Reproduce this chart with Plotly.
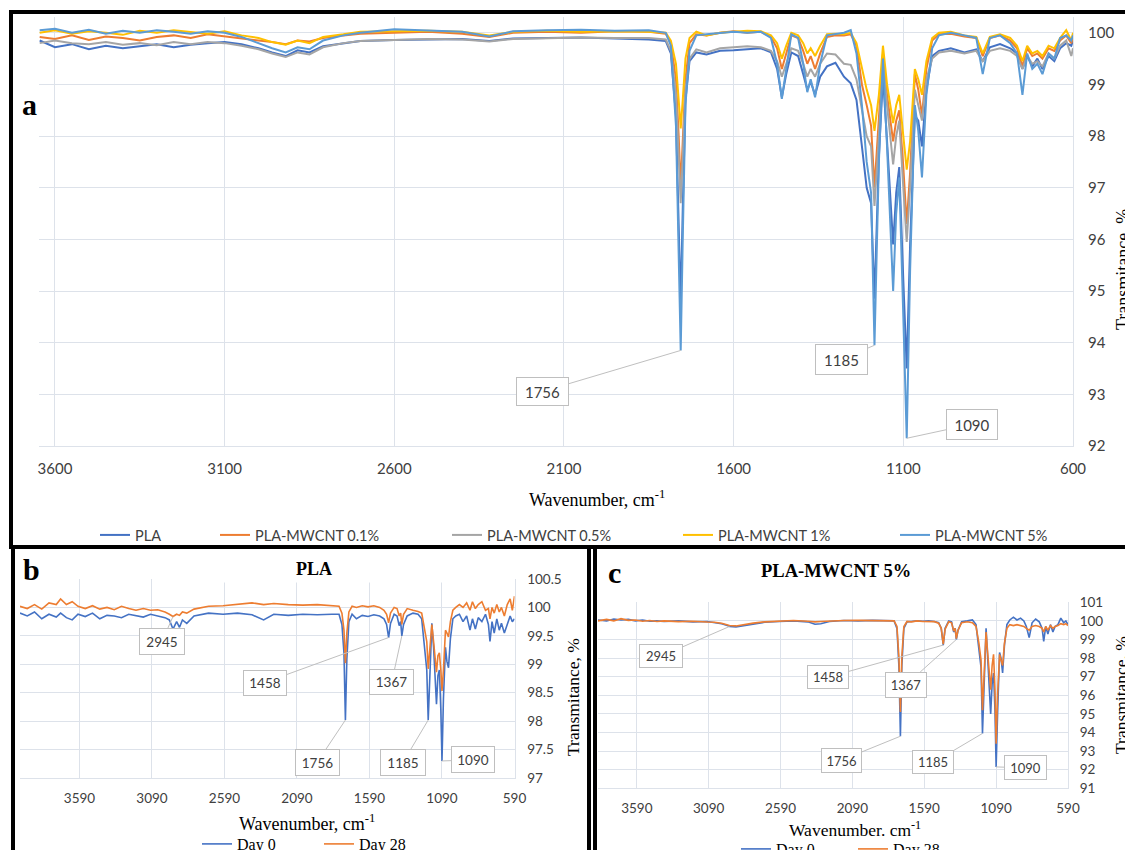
import plotly.graph_objects as go

W, H = 1133, 858
def px(x): return x / W
def py(y): return 1 - y / H

# ---------------- Panel a data ----------------
WN_A = [3645, 3600, 3550, 3500, 3450, 3400, 3350, 3300, 3250, 3200,
        3150, 3100, 3050, 3000, 2960, 2920, 2885, 2850, 2810, 2750,
        2700, 2600, 2500, 2400, 2320, 2250, 2150, 2050, 1950, 1850,
        1800, 1785, 1770, 1762, 1756, 1750, 1742, 1730, 1710, 1680,
        1640, 1600, 1560, 1520, 1490, 1472, 1458, 1445, 1430, 1410,
        1395, 1383, 1373, 1360, 1345, 1325, 1300, 1275, 1255, 1238,
        1222, 1208, 1195, 1185, 1172, 1160, 1148, 1138, 1130, 1121,
        1112, 1100, 1090, 1080, 1066, 1056, 1045, 1032, 1015, 995,
        960, 920, 885, 866, 845, 815, 785, 765, 749, 735,
        720, 705, 690, 672, 655, 638, 620, 605, 600]

PLA_A = [99.85, 99.72, 99.78, 99.68, 99.75, 99.70, 99.74, 99.78, 99.72, 99.77,
         99.80, 99.82, 99.78, 99.70, 99.62, 99.55, 99.66, 99.62, 99.74, 99.80,
         99.84, 99.86, 99.87, 99.88, 99.84, 99.89, 99.90, 99.91, 99.89, 99.87,
         99.84, 99.6, 98.4, 96.3, 94.7, 96.6, 98.7, 99.45, 99.62, 99.58,
         99.65, 99.66, 99.68, 99.70, 99.62, 99.3, 98.75, 99.2, 99.62, 99.55,
         99.2, 98.9, 99.05, 98.8, 99.15, 99.35, 99.42, 99.15, 99.02, 98.7,
         97.8, 97.0, 96.7, 94.85, 97.6, 99.15, 97.9, 96.9, 95.9, 96.9,
         97.4, 95.2, 93.5, 95.9, 98.4, 98.3, 97.8, 98.9, 99.55, 99.65,
         99.7, 99.62, 99.68, 99.45, 99.72, 99.78, 99.7, 99.6, 99.3, 99.55,
         99.35, 99.5, 99.3, 99.55, 99.45, 99.7, 99.8, 99.75, 99.85]

MWCNT01_A = [99.92, 99.88, 99.95, 99.86, 99.93, 99.9, 99.85, 99.92, 99.95, 99.9,
             99.97, 99.93, 99.9, 99.85, 99.82, 99.78, 99.85, 99.83, 99.9, 99.95,
             99.98, 100.0, 100.02, 99.98, 99.92, 100.0, 100.02, 100.0, 100.03, 100.02,
             99.98, 99.8, 99.1, 98.0, 97.0, 97.9, 99.1, 99.8, 99.97, 99.95,
             100.0, 100.03, 100.0, 100.02, 99.92, 99.7, 99.3, 99.6, 99.95, 99.9,
             99.65, 99.4, 99.55, 99.3, 99.6, 99.92, 99.95, 99.95, 99.97, 99.75,
             99.0, 98.6, 98.2, 97.0, 98.3, 99.6, 98.8, 98.3, 97.9, 98.3,
             98.5, 97.4, 96.3, 97.3, 99.2, 98.9, 98.4, 99.3, 99.85, 99.97,
             99.98, 99.93, 99.9, 99.55, 99.9, 99.95, 99.85, 99.7, 99.35, 99.7,
             99.55, 99.6, 99.5, 99.7, 99.65, 99.85, 99.95, 99.8, 99.9]

MWCNT05_A = [99.8, 99.85, 99.8, 99.78, 99.82, 99.77, 99.8, 99.76, 99.82, 99.78,
             99.82, 99.8, 99.75, 99.68, 99.6, 99.53, 99.62, 99.58, 99.72, 99.8,
             99.84, 99.86, 99.88, 99.87, 99.83, 99.88, 99.9, 99.91, 99.9, 99.9,
             99.87, 99.65, 98.8, 97.6, 96.7, 97.6, 98.9, 99.5, 99.68, 99.62,
             99.7, 99.72, 99.74, 99.72, 99.65, 99.45, 99.15, 99.4, 99.7, 99.65,
             99.4, 99.15, 99.3, 99.15, 99.4, 99.6, 99.58, 99.4, 99.38, 99.1,
             98.5, 98.0, 97.8, 96.65, 98.0, 99.45, 98.6, 98.0, 97.45, 98.0,
             98.3, 97.0, 95.95, 97.0, 98.9, 98.6, 98.3, 99.1, 99.5, 99.62,
             99.65, 99.6, 99.65, 99.45, 99.65, 99.7, 99.65, 99.55, 99.3, 99.55,
             99.4, 99.45, 99.35, 99.6, 99.5, 99.75, 99.85, 99.55, 99.7]

MWCNT1_A = [100.0, 100.05, 99.98, 100.03, 100.0, 99.96, 100.04, 100.0, 100.05, 100.02,
            99.98, 100.03, 99.95, 99.9, 99.82, 99.77, 99.85, 99.8, 99.92, 99.97,
            100.02, 100.03, 100.04, 100.02, 99.95, 100.02, 100.04, 100.02, 100.03, 100.02,
            100.0, 99.85, 99.4, 98.7, 98.15, 98.7, 99.5, 99.9, 100.02, 99.95,
            100.0, 100.02, 100.04, 100.03, 99.95, 99.8, 99.5, 99.75, 100.0, 99.95,
            99.8, 99.6, 99.7, 99.55, 99.75, 99.97, 99.98, 99.97, 100.0, 99.8,
            99.3, 98.9, 98.6, 98.1, 98.8, 99.75, 99.0, 98.6, 98.25, 98.6,
            98.8, 98.0, 97.35, 97.9, 99.3, 99.1, 98.8, 99.45, 99.9, 100.0,
            100.02, 99.95, 99.92, 99.6, 99.92, 99.97, 99.9, 99.75, 99.45, 99.75,
            99.6, 99.65, 99.55, 99.75, 99.7, 99.9, 100.05, 99.85, 100.0]

MWCNT5_A = [100.05, 100.08, 100.0, 100.06, 99.98, 100.04, 100.0, 100.05, 100.02, 99.98,
            100.03, 100.0, 99.92, 99.8, 99.7, 99.62, 99.72, 99.68, 99.85, 99.95,
            100.0, 100.07, 100.05, 100.02, 99.93, 100.03, 100.05, 100.06, 100.04, 100.05,
            100.0, 99.75, 98.2, 95.6, 93.85, 96.0, 98.6, 99.65, 99.95, 99.97,
            100.0, 100.02, 100.0, 100.02, 99.9, 99.4, 98.72, 99.35, 99.97, 99.9,
            99.4, 98.85, 99.1, 98.75, 99.4, 99.95, 99.97, 100.0, 100.05, 99.6,
            98.6, 97.5, 96.9, 93.95, 97.5, 99.5, 97.8, 96.4, 95.0, 96.5,
            97.2, 94.5, 92.15, 95.4, 98.6, 98.1, 97.2, 98.8, 99.7, 99.95,
            100.0, 99.95, 99.9, 99.2, 99.9, 99.95, 99.8, 99.6, 98.8, 99.6,
            99.3, 99.4, 99.2, 99.6, 99.5, 99.9, 99.95, 99.85, 99.95]

SERIES_A_NAMES = ["PLA", "PLA-MWCNT 0.1%", "PLA-MWCNT 0.5%", "PLA-MWCNT 1%", "PLA-MWCNT 5%"]

# ---------------- Panel b data (PLA) ----------------
WN_B = [4000, 3950, 3900, 3850, 3800, 3750, 3720, 3680, 3640, 3600,
        3550, 3500, 3450, 3400, 3350, 3300, 3250, 3200, 3150, 3100,
        3050, 3000, 2970, 2945, 2920, 2900, 2880, 2850, 2800, 2750,
        2700, 2600, 2500, 2400, 2320, 2250, 2150, 2050, 1950, 1850,
        1800, 1780, 1766, 1756, 1746, 1732, 1710, 1680, 1640, 1600,
        1560, 1520, 1490, 1472, 1458, 1445, 1420, 1400, 1385, 1375,
        1367, 1355, 1330, 1290, 1255, 1230, 1210, 1195, 1185, 1172,
        1160, 1148, 1138, 1128, 1118, 1108, 1098, 1090, 1080, 1066,
        1056, 1045, 1032, 1015, 995, 970, 945, 920, 897, 880,
        860, 840, 815, 790, 770, 759, 745, 730, 712, 695,
        680, 660, 640, 620, 605, 590]

PLA_DAY0_B = [99.9, 99.85, 99.92, 99.8, 99.88, 99.83, 99.9, 99.82, 99.78, 99.88,
              99.84, 99.9, 99.8, 99.86, 99.85, 99.82, 99.88, 99.85, 99.83, 99.88,
              99.85, 99.82, 99.78, 99.62, 99.75, 99.65, 99.78, 99.72, 99.85, 99.88,
              99.9, 99.88, 99.9, 99.87, 99.78, 99.88, 99.86, 99.88, 99.87, 99.88,
              99.88, 99.7, 99.2, 98.02, 99.1, 99.75, 99.88, 99.8, 99.86, 99.84,
              99.87, 99.85, 99.8, 99.7, 99.47, 99.72, 99.88, 99.85, 99.68, 99.75,
              99.5, 99.7, 99.85, 99.9, 99.88, 99.8, 99.3, 98.9, 98.02, 99.1,
              99.72, 99.3, 98.7, 98.3, 98.8, 98.9, 98.2, 97.3, 98.4, 99.3,
              99.05, 98.94, 99.45, 99.8, 99.85, 99.88, 99.75, 99.85, 99.6, 99.8,
              99.62, 99.82, 99.75, 99.88, 99.7, 99.4, 99.75, 99.55, 99.8, 99.6,
              99.72, 99.55, 99.7, 99.85, 99.75, 99.8]

PLA_DAY28_B = [100.02, 99.98, 100.05, 99.97, 100.08, 100.05, 100.15, 100.05, 100.1, 100.02,
               99.98, 100.03, 99.97, 100.0, 99.96, 100.02, 99.98, 99.95, 99.98, 99.95,
               99.96, 99.92, 99.88, 99.84, 99.88, 99.86, 99.92, 99.9, 99.97, 100.0,
               100.02, 100.03, 100.05, 100.08, 100.05, 100.07, 100.05, 100.04, 100.05, 100.03,
               100.02, 99.9, 99.6, 99.02, 99.55, 99.92, 100.02, 100.0, 100.03, 100.01,
               100.03, 100.0, 99.95, 99.88, 99.73, 99.9, 100.0, 99.98, 99.85, 99.9,
               99.7, 99.88, 99.98, 99.95, 99.93, 99.9, 99.6, 99.4, 98.92, 99.4,
               99.7, 99.4, 99.1, 98.86, 99.15, 99.2, 98.9, 98.53, 98.9, 99.6,
               99.55, 99.48, 99.75, 99.95, 100.0, 100.05, 100.0, 100.08, 99.95, 100.1,
               99.98, 100.05, 100.1, 99.95, 99.98, 99.8, 100.0, 99.9, 100.05, 99.92,
               100.0, 99.85, 100.05, 100.15, 99.95, 100.2]

# ---------------- Panel c data (PLA-MWCNT 5%) ----------------
WN_C = [3860, 3800, 3750, 3700, 3650, 3600, 3550, 3500, 3450, 3400,
        3300, 3200, 3100, 3050, 3000, 2960, 2945, 2900, 2870, 2830,
        2780, 2700, 2600, 2500, 2400, 2350, 2310, 2250, 2150, 2050,
        1950, 1850, 1800, 1780, 1766, 1756, 1746, 1732, 1710, 1680,
        1640, 1600, 1560, 1520, 1490, 1472, 1458, 1445, 1420, 1400,
        1385, 1375, 1367, 1355, 1330, 1290, 1255, 1230, 1210, 1195,
        1185, 1172, 1160, 1148, 1138, 1128, 1118, 1108, 1098, 1090,
        1080, 1066, 1056, 1045, 1032, 1015, 995, 970, 945, 920,
        897, 880, 860, 840, 815, 790, 770, 759, 745, 730,
        712, 695, 680, 660, 640, 620, 605, 590]

M5_DAY0_C = [100.05, 100.0, 100.1, 100.05, 100.08, 100.0, 100.05, 99.98, 100.0, 99.97,
             100.0, 99.95, 99.97, 99.92, 99.85, 99.75, 99.7, 99.68, 99.72, 99.78,
             99.85, 99.93, 99.97, 100.0, 99.95, 99.82, 99.85, 99.97, 100.02, 100.0,
             100.03, 100.02, 100.0, 99.6, 97.5, 93.8, 97.6, 99.6, 99.95, 99.97,
             100.0, 99.98, 100.0, 99.97, 99.9, 99.6, 98.7, 99.6, 100.0, 99.95,
             99.4, 99.6, 99.0, 99.5, 99.95, 100.0, 100.05, 99.8, 98.6, 97.5,
             93.95, 97.2, 99.6, 97.9, 96.3, 95.0, 96.6, 97.2, 95.2, 92.15,
             95.0, 98.3, 98.0, 97.2, 98.7, 99.8, 100.05, 100.2, 100.05, 100.15,
             100.0, 99.7, 99.1, 99.9, 100.1, 99.95, 99.6, 98.9, 99.7, 99.3,
             99.8, 99.4, 99.7, 99.8, 100.15, 99.9, 100.0, 99.8]

M5_DAY28_C = [100.0, 100.08, 100.0, 100.12, 100.03, 100.05, 99.98, 100.02, 99.97, 100.0,
              99.96, 99.98, 99.94, 99.93, 99.87, 99.8, 99.75, 99.73, 99.77, 99.82,
              99.88, 99.95, 99.98, 100.02, 99.98, 99.95, 99.97, 100.0, 100.02, 100.03,
              100.02, 100.03, 100.0, 99.7, 98.0, 95.1, 98.1, 99.7, 99.97, 99.95,
              100.0, 99.97, 99.98, 99.96, 99.88, 99.6, 98.75, 99.55, 99.95, 99.9,
              99.45, 99.6, 99.05, 99.5, 99.9, 99.95, 99.9, 99.7, 98.8, 97.9,
              95.2, 97.6, 99.4, 98.2, 97.1, 96.3, 97.6, 98.2, 96.3, 93.4,
              96.0, 98.2, 97.9, 97.6, 98.8, 99.6, 99.8, 99.75, 99.8, 99.75,
              99.7, 99.6, 99.5, 99.7, 99.75, 99.7, 99.6, 99.4, 99.7, 99.5,
              99.75, 99.6, 99.7, 99.75, 99.85, 99.8, 99.85, 99.75]

DAY_NAMES = ["Day 0", "Day 28"]

for a in (PLA_A, MWCNT01_A, MWCNT05_A, MWCNT1_A, MWCNT5_A):
    assert len(a) == len(WN_A)
assert len(PLA_DAY0_B) == len(WN_B) == len(PLA_DAY28_B)
assert len(M5_DAY0_C) == len(WN_C) == len(M5_DAY28_C)

# ---------------- styling ----------------
COLORS_A = ["#4472C4", "#ED7D31", "#A5A5A5", "#FFC000", "#5B9BD5"]
GRID = "#dde2ea"
TICK = "#404040"
SANS = "Lato"
SERIF = "Liberation Serif"

fig = go.Figure()

series_a = [PLA_A, MWCNT01_A, MWCNT05_A, MWCNT1_A, MWCNT5_A]
legend_a_text_x = [135, 255, 487, 718, 935]
legend_layouts = {}
for i, (name, vals, col) in enumerate(zip(SERIES_A_NAMES, series_a, COLORS_A)):
    lg = "legend" if i == 0 else f"legend{i+1}"
    fig.add_trace(go.Scatter(x=WN_A, y=vals, name=name, mode="lines",
                             line=dict(color=col, width=2),
                             xaxis="x", yaxis="y", legend=lg))
    legend_layouts[lg] = dict(x=px(legend_a_text_x[i] - 40), y=py(535), xanchor="left", yanchor="middle",
                              orientation="h", bgcolor="rgba(0,0,0,0)",
                              font=dict(family=SANS, size=14.5, color=TICK))

for j, (vals, col) in enumerate(zip([PLA_DAY0_B, PLA_DAY28_B], ["#4472C4", "#ED7D31"])):
    lg = f"legend{6+j}"
    fig.add_trace(go.Scatter(x=WN_B, y=vals, name=DAY_NAMES[j], mode="lines",
                             line=dict(color=col, width=1.6),
                             xaxis="x2", yaxis="y2", legend=lg))
    legend_layouts[lg] = dict(x=px([237, 359][j] - 40), y=py(844), xanchor="left", yanchor="middle",
                              orientation="h", bgcolor="rgba(0,0,0,0)",
                              font=dict(family=SERIF, size=16, color="black"))

for j, (vals, col) in enumerate(zip([M5_DAY0_C, M5_DAY28_C], ["#4472C4", "#ED7D31"])):
    lg = f"legend{8+j}"
    fig.add_trace(go.Scatter(x=WN_C, y=vals, name=DAY_NAMES[j], mode="lines",
                             line=dict(color=col, width=1.6),
                             xaxis="x3", yaxis="y3", legend=lg))
    legend_layouts[lg] = dict(x=px([776, 893][j] - 40), y=py(849), xanchor="left", yanchor="middle",
                              orientation="h", bgcolor="rgba(0,0,0,0)",
                              font=dict(family=SERIF, size=16, color="black"))

def xax(domain, rng, anchor, size, standoff, tick0):
    return dict(domain=domain, range=rng, anchor=anchor, tick0=tick0, dtick=500,
                showgrid=True, gridcolor=GRID, gridwidth=1, zeroline=False,
                showline=True, linecolor=GRID, linewidth=1, ticks="",
                tickfont=dict(family=SANS, size=size, color=TICK), ticklabelstandoff=standoff,
                fixedrange=True)

def yax(domain, rng, anchor, dtick, size, standoff):
    return dict(domain=domain, range=rng, anchor=anchor, side="right", dtick=dtick, tick0=rng[0],
                showgrid=True, gridcolor=GRID, gridwidth=1, zeroline=False,
                showline=True, linecolor=GRID, linewidth=1, ticks="",
                tickfont=dict(family=SANS, size=size, color=TICK), ticklabelstandoff=standoff,
                fixedrange=True)

layout = dict(
    autosize=True, margin=dict(l=0, r=0, t=0, b=0, autoexpand=False),
    paper_bgcolor="white", plot_bgcolor="white",
    xaxis=xax([px(39), px(1073)], [3647, 600], "y", 15, 9, 600),
    yaxis=yax([py(446), py(17.3)], [92, 100.3], "x", 1, 15, 11),
    xaxis2=xax([px(20), px(514.5)], [4000, 590], "y2", 13.5, 8, 590),
    yaxis2=yax([py(778), py(579)], [97, 100.5], "x2", 0.5, 13.5, 9),
    xaxis3=xax([px(598), px(1068)], [3860, 590], "y3", 13.5, 7, 590),
    yaxis3=yax([py(788.3), py(602.3)], [91, 101], "x3", 1, 13.5, 8),
    showlegend=True,
)
layout.update(legend_layouts)
fig.update_layout(**layout)

# ---------------- frames (kept inside the page) ----------------
frame_lines = [
    (11, 12, 1133, 12), (11, 10, 11, 549), (11, 547, 1133, 547),     # panel a
    (13, 547, 13, 858), (589, 547, 589, 858),                        # panel b
    (595, 547, 595, 858),                                            # panel c
]
for (x0, y0, x1, y1) in frame_lines:
    fig.add_shape(type="line", xref="paper", yref="paper", x0=px(x0), y0=py(y0), x1=px(x1), y1=py(y1),
                  line=dict(color="black", width=4), layer="above")

ann = []
def text_ann(x, y, text, size, family=SERIF, bold=False, angle=0, **kw):
    t = f"<b>{text}</b>" if bold else text
    d = dict(xref="paper", yref="paper", x=px(x), y=py(y), text=t, showarrow=False,
             xanchor="center", yanchor="middle", textangle=angle,
             font=dict(family=family, size=size, color="black"))
    d.update(kw)
    ann.append(d)

# panel letters and titles
text_ann(29, 104, "a", 30, bold=True)
text_ann(31, 569, "b", 30, bold=True)
text_ann(614, 572, "c", 30, bold=True)
text_ann(314, 569, "PLA", 18, bold=True, bgcolor="white", width=258, height=24)
text_ann(836, 571, "PLA-MWCNT 5%", 18.5, bold=True)

# axis titles
text_ann(597, 498, "Wavenumber, cm<sup>-1</sup>", 18)
text_ann(307, 822, "Wavenumber, cm<sup>-1</sup>", 18)
text_ann(855, 829, "Wavenumber. cm<sup>-1</sup>", 17.5)
text_ann(1123, 270, "Transmitance, %", 18, angle=-90)
text_ann(573, 697, "Transmitance, %", 17.5, angle=-90)
text_ann(1121, 695, "Transmitance, %", 17.5, angle=-90)

# peak callouts
def callout(xr, yr, wns, vals, k, ax, ay, w, h, size):
    ann.append(dict(xref=xr, yref=yr, x=k, y=vals[wns.index(k)], text=str(k),
                    showarrow=True, arrowhead=0, arrowwidth=1, arrowcolor="#BFBFBF", standoff=0,
                    ax=ax, ay=ay, width=w, height=h, bgcolor="white",
                    bordercolor="#BFBFBF", borderwidth=1, borderpad=0,
                    font=dict(family=SANS, size=size, color=TICK)))

callout("x", "y", WN_A, MWCNT5_A, 1756, -138, 41, 51, 27, 15)
callout("x", "y", WN_A, MWCNT5_A, 1185, -33, 14, 51, 29, 15)
callout("x", "y", WN_A, MWCNT5_A, 1090, 65, -14, 50, 29, 15)

callout("x2", "y2", WN_B, PLA_DAY28_B, 2945, -11, 25, 44, 25, 13.5)
callout("x2", "y2", WN_B, PLA_DAY0_B, 1458, -124, 45, 42, 24, 13.5)
callout("x2", "y2", WN_B, PLA_DAY0_B, 1367, -10, 46, 43, 24, 13.5)
callout("x2", "y2", WN_B, PLA_DAY0_B, 1756, -28, 42, 43, 25, 13.5)
callout("x2", "y2", WN_B, PLA_DAY0_B, 1185, -25, 42, 44, 25, 13.5)
callout("x2", "y2", WN_B, PLA_DAY0_B, 1090, 31, -1, 42, 25, 13.5)

callout("x3", "y3", WN_C, M5_DAY0_C, 2945, -69, 30, 42, 22, 13)
callout("x3", "y3", WN_C, M5_DAY0_C, 1458, -115, 32, 40, 22, 13)
callout("x3", "y3", WN_C, M5_DAY0_C, 1367, -50, 45, 40, 24, 13)
callout("x3", "y3", WN_C, M5_DAY0_C, 1756, -59, 24, 39, 23, 13)
callout("x3", "y3", WN_C, M5_DAY0_C, 1185, -49, 29, 40, 22, 13)
callout("x3", "y3", WN_C, M5_DAY0_C, 1090, 29, 1, 41, 23, 13)

fig.update_layout(annotations=ann)
# The page's default 8px body margin would push the 1133x858 figure past the window,
# so the figure div is pulled back over it with negative margins.
fig.write_html("out.html",
               config={"displayModeBar": False, "responsive": False},
               default_width="1133px;margin:-8px -8px -8px -8px",
               default_height="858px")
